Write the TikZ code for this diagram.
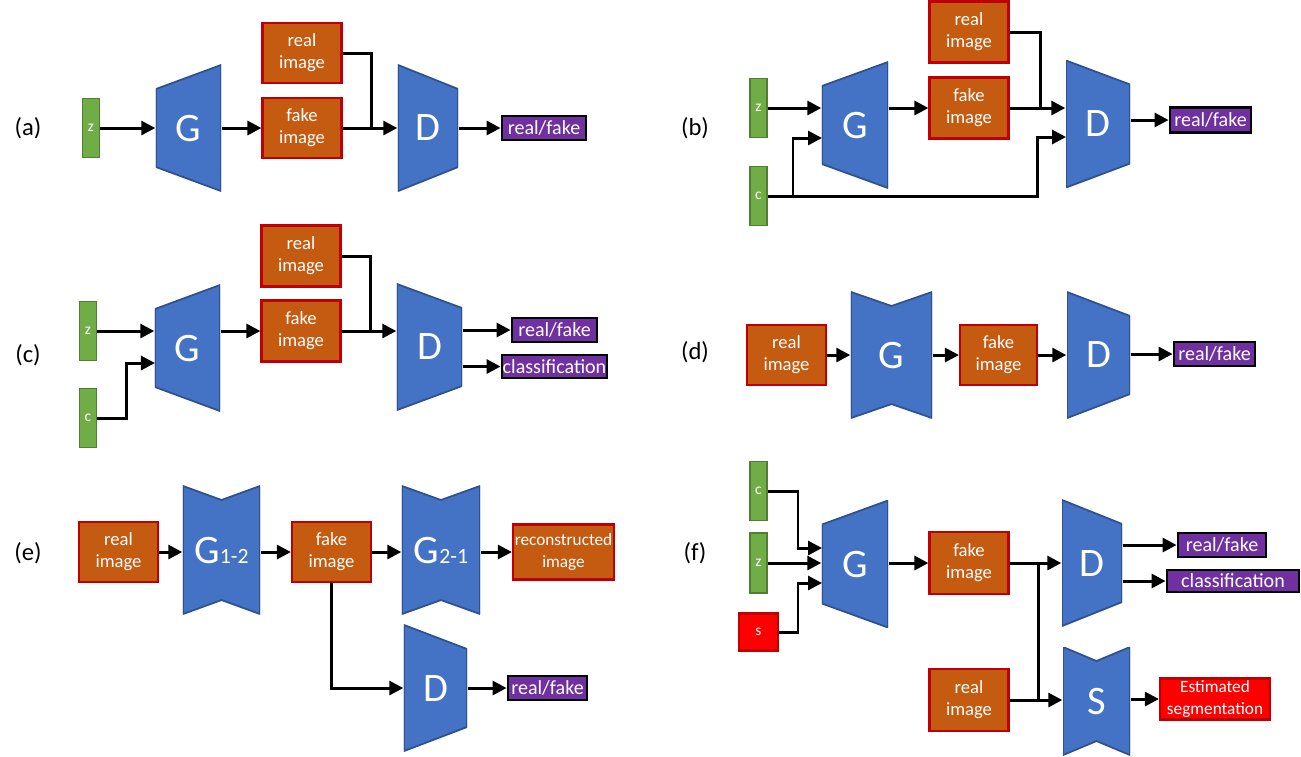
\documentclass[tikz,border=0pt]{standalone}
\usepackage{fontspec}
\setmainfont{Carlito}
\usetikzlibrary{arrows.meta}
\definecolor{netblue}{HTML}{4472C4}
\definecolor{netedge}{HTML}{2F528F}
\definecolor{imgfill}{HTML}{C55A11}
\definecolor{imgedge}{HTML}{C00000}
\definecolor{noisefill}{HTML}{70AD47}
\definecolor{noiseedge}{HTML}{507E32}
\definecolor{outfill}{HTML}{7030A0}
\definecolor{segfill}{HTML}{FF0000}
\newcommand{\imgfont}{\fontsize{5.3}{6.3}\selectfont}
\newcommand{\outfont}{\fontsize{5.7}{6.3}\selectfont}
\newcommand{\smallimgfont}{\fontsize{4.9}{6.1}\selectfont}
\newcommand{\netfont}{\fontsize{11.5}{12}\selectfont}
\newcommand{\subfont}{\fontsize{6.2}{6.5}\selectfont}
\newcommand{\noisefont}{\fontsize{4.4}{5}\selectfont}
\newcommand{\tagfont}{\fontsize{7}{8}\selectfont}

\tikzset{
  img/.style={rectangle,fill=imgfill,draw=imgedge,line width=0.6pt,text=white,
    font=\imgfont,align=center,inner sep=0pt,minimum width=0.79cm,minimum height=0.6cm},
  seg/.style={img,fill=segfill},
  noise/.style={rectangle,fill=noisefill,draw=noiseedge,line width=0.5pt,text=white,
    font=\noisefont,inner sep=0pt,minimum width=0.17cm,minimum height=0.59cm},
  outp/.style={rectangle,fill=outfill,draw=black,line width=0.8pt,text=white,
    font=\outfont,inner sep=0pt,minimum height=0.24cm},
  tag/.style={font=\tagfont},
  net/.style={rectangle,inner sep=0pt,text=white,font=\netfont,minimum height=1.26cm},
  gen/.style={net,path picture={
    \filldraw[fill=netblue,draw=netedge,line width=0.5pt]
      (path picture bounding box.north east) -- (path picture bounding box.south east)
      -- ([yshift=0.24cm]path picture bounding box.south west)
      -- ([yshift=-0.24cm]path picture bounding box.north west) -- cycle;}},
  disc/.style={net,path picture={
    \filldraw[fill=netblue,draw=netedge,line width=0.5pt]
      (path picture bounding box.north west) -- (path picture bounding box.south west)
      -- ([yshift=0.24cm]path picture bounding box.south east)
      -- ([yshift=-0.24cm]path picture bounding box.north east) -- cycle;}},
  hourg/.style={net,path picture={
    \filldraw[fill=netblue,draw=netedge,line width=0.5pt]
      (path picture bounding box.north west) -- ([yshift=-0.14cm]path picture bounding box.north)
      -- (path picture bounding box.north east) -- (path picture bounding box.south east)
      -- ([yshift=0.14cm]path picture bounding box.south) -- (path picture bounding box.south west) -- cycle;}},
  arrow/.style={-{Triangle[length=0.14cm,width=0.14cm]},line width=0.85pt},
  link/.style={line width=0.85pt}
}

\begin{document}
\begin{tikzpicture}[x=0.01cm,y=-0.01cm]
\useasboundingbox (0,0) rectangle (1301,756);

% (a) plain GAN
\node[tag] (la) at (28,128) {(a)};
\node[noise] (za) at (91,128) {z};
\node[gen,minimum width=0.65cm] (Ga) at (188.5,128) {G};
\node[img] (ra) at (302,53) {real\\image};
\node[img] (fa) at (302,128) {fake\\image};
\node[disc,minimum width=0.6cm] (Da) at (428,128) {D};
\node[outp,minimum width=0.84cm] (oa) at (544,128) {real/fake};
\coordinate (ma) at (371,128);
\draw[arrow] (za.east) -- (Ga.west);
\draw[arrow] (Ga.east) -- (fa.west);
\draw[arrow] (fa.east) -- (Da.west);
\draw[link] (ra.east) -| (ma);
\draw[arrow] (Da.east) -- (oa.west);

% (b) conditional GAN
\node[tag] (lb) at (695,128) {(b)};
\node[noise] (zb) at (758.5,108) {z};
\node[noise] (cb) at (758.5,196) {c};
\node[gen,minimum width=0.66cm] (Gb) at (855,125) {G};
\node[img,minimum height=0.61cm] (rb) at (969,32) {real\\image};
\node[img,minimum height=0.61cm] (fb) at (969,108) {fake\\image};
\node[disc,minimum width=0.64cm,minimum height=1.27cm] (Db) at (1098,124) {D};
\node[outp,minimum width=0.81cm,minimum height=0.25cm] (ob) at (1210.5,120) {real/fake};
\coordinate (mb) at (1040,108);
\coordinate (gbin) at (822,138);
\coordinate (dbin) at (1066,137);
\draw[arrow] (zb.east) -- (zb.east -| Gb.west);
\draw[arrow] (cb.east) -| ([xshift=-0.29cm]gbin) -- (gbin);
\draw[arrow] (cb.east) -| ([xshift=-0.29cm]dbin) -- (dbin);
\draw[arrow] (Gb.east |- fb.west) -- (fb.west);
\draw[arrow] (fb.east) -- (fb.east -| Db.west);
\draw[link] (rb.east) -| (mb);
\draw[arrow] (Db.east |- ob.west) -- (ob.west);

% (c) auxiliary classifier GAN
\node[tag] (lc) at (28,355) {(c)};
\node[noise] (zc) at (88,331) {z};
\node[noise] (cc) at (88,418) {c};
\node[gen,minimum width=0.65cm] (Gc) at (187.5,348) {G};
\node[img,minimum height=0.61cm] (rc) at (301,256) {real\\image};
\node[img,minimum height=0.61cm] (fc) at (301,331) {fake\\image};
\node[disc,minimum width=0.65cm] (Dc) at (429.5,347) {D};
\node[outp,minimum width=0.85cm] (oc1) at (554.5,330) {real/fake};
\node[outp,minimum width=1.05cm,minimum height=0.23cm] (oc2) at (554.5,366.5) {classification};
\coordinate (mc) at (370,331);
\coordinate (gcin) at (155,363);
\draw[arrow] (zc.east) -- (zc.east -| Gc.west);
\draw[arrow] (cc.east) -| ([xshift=-0.28cm]gcin) -- (gcin);
\draw[arrow] (Gc.east |- fc.west) -- (fc.west);
\draw[arrow] (fc.east) -- (fc.east -| Dc.west);
\draw[link] (rc.east) -| (mc);
\draw[arrow] (Dc.east |- oc1.west) -- (oc1.west);
\draw[arrow] (Dc.east |- oc2.west) -- (oc2.west);

% (d) image-to-image GAN
\node[tag] (ld) at (695,352) {(d)};
\node[img] (rd) at (786.5,355) {real\\image};
\node[hourg,minimum width=0.81cm] (Gd) at (891.5,355) {G};
\node[img,minimum width=0.77cm] (fd) at (998.5,355) {fake\\image};
\node[disc,minimum width=0.63cm] (Dd) at (1098.5,355) {D};
\node[outp,minimum width=0.81cm] (od) at (1214.5,354) {real/fake};
\draw[arrow] (rd.east) -- (Gd.west);
\draw[arrow] (Gd.east) -- (fd.west);
\draw[arrow] (fd.east) -- (Dd.west);
\draw[arrow] (Dd.east |- od.west) -- (od.west);

% (e) cycle GAN
\node[tag] (le) at (28,553) {(e)};
\node[img] (re) at (118.5,552) {real\\image};
\node[hourg,minimum width=0.77cm,minimum height=1.28cm] (G1) at (221.5,550) {G{\subfont 1-2}};
\node[img] (fe) at (331.5,552) {fake\\image};
\node[hourg,minimum width=0.78cm,minimum height=1.28cm] (G2) at (441,550) {G{\subfont 2-1}};
\node[img,font=\smallimgfont,minimum width=1.01cm,minimum height=0.55cm] (ce) at (563.5,552) {reconstructed\\image};
\node[disc,minimum width=0.63cm] (De) at (435.5,688) {D};
\node[outp,minimum width=0.79cm] (oe) at (547.5,688) {real/fake};
\draw[arrow] (re.east) -- (re.east -| G1.west);
\draw[arrow] (G1.east |- fe.west) -- (fe.west);
\draw[arrow] (fe.east) -- (fe.east -| G2.west);
\draw[arrow] (G2.east |- ce.west) -- (ce.west);
\draw[arrow] (fe.south) |- (De.west);
\draw[arrow] (De.east) -- (oe.west);

% (f) segmentation-guided GAN
\node[tag] (lf) at (695,553) {(f)};
\node[noise] (cf) at (758.5,491) {c};
\node[noise,minimum height=0.6cm] (zf) at (758.5,563) {z};
\node[seg,minimum width=0.39cm,minimum height=0.37cm,font=\noisefont] (sf) at (758.5,632) {s};
\node[gen,minimum width=0.66cm,minimum height=1.27cm] (Gf) at (855,564) {G};
\node[img,minimum height=0.62cm] (ff) at (969,563) {fake\\image};
\node[disc,minimum width=0.6cm] (Df) at (1092,563) {D};
\node[outp,minimum width=0.88cm] (of1) at (1222,545) {real/fake};
\node[outp,minimum width=1.32cm,minimum height=0.22cm] (of2) at (1233,581) {classification};
\node[img,minimum height=0.62cm] (rf) at (969,700) {real\\image};
\node[hourg,minimum width=0.67cm,minimum height=1.08cm] (Sf) at (1096.5,701) {S};
\node[seg,font=\smallimgfont,minimum width=1.1cm,minimum height=0.41cm] (ef) at (1215,699) {Estimated\\segmentation};
\coordinate (gfin1) at (822,548);
\coordinate (gfin3) at (822,583);
\coordinate (mf1) at (1038,563);
\coordinate (mf2) at (1038,700);
\draw[arrow] (cf.east) -| ([xshift=-0.24cm]gfin1) -- (gfin1);
\draw[arrow] (zf.east) -- (zf.east -| Gf.west);
\draw[arrow] (sf.east) -| ([xshift=-0.24cm]gfin3) -- (gfin3);
\draw[arrow] (Gf.east |- ff.west) -- (ff.west);
\draw[arrow] (ff.east) -- (ff.east -| Df.west);
\draw[arrow] (rf.east) -- (rf.east -| Sf.west);
\draw[link] (mf1) -- (mf2);
\draw[arrow] (Df.east |- of1.west) -- (of1.west);
\draw[arrow] (Df.east |- of2.west) -- (of2.west);
\draw[arrow] (Sf.east |- ef.west) -- (ef.west);
\end{tikzpicture}
\end{document}
